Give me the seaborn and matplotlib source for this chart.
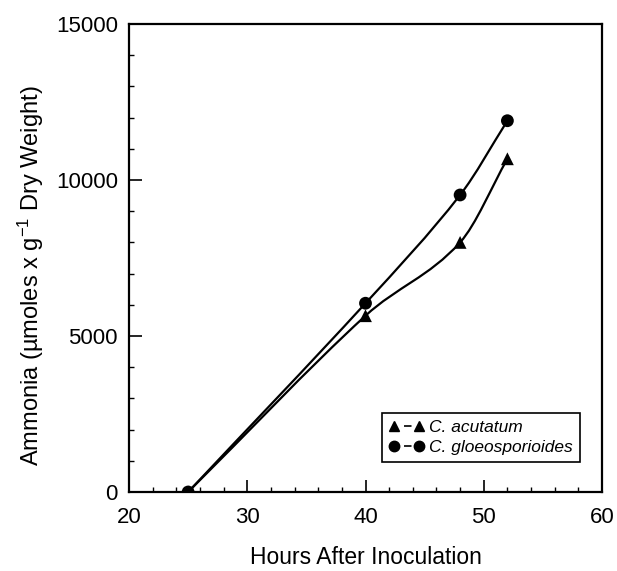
import numpy as np
import matplotlib
matplotlib.use("Agg")
import matplotlib.pyplot as plt
from matplotlib.path import Path
from matplotlib.patches import PathPatch
from matplotlib.lines import Line2D
from matplotlib.ticker import MultipleLocator
import seaborn as sns
import pandas as pd

# ---- data ----
hours = [25, 40, 48, 52]
acutatum = [0, 5650, 8000, 10680]
gloeo = [0, 6050, 9520, 11900]
series_names = ["C. acutatum", "C. gloeosporioides"]
xticks = [20, 30, 40, 50, 60]
yticks = [0, 5000, 10000, 15000]

sns.set_theme(style="ticks")
plt.rcParams["font.family"] = ["Liberation Sans", "DejaVu Sans"]
plt.rcParams["mathtext.fontset"] = "custom"
plt.rcParams["mathtext.rm"] = "Liberation Sans"
plt.rcParams["mathtext.it"] = "Liberation Sans:italic"
plt.rcParams["text.color"] = "black"
plt.rcParams["axes.labelcolor"] = "black"

fig = plt.figure(figsize=(6.17, 5.71), dpi=100)
ax = fig.add_axes([129/617, 1-492/571, (602-129)/617, (492-24)/571])

df = pd.DataFrame({
    "hours": hours * 2,
    "ammonia": acutatum + gloeo,
    "series": [series_names[0]] * len(hours) + [series_names[1]] * len(hours),
})


def smooth_path(xs, ys):
    xs = np.asarray(xs, float)
    ys = np.asarray(ys, float)
    n = len(xs)
    m = np.zeros(n)
    for i in range(n):
        if i == 0:
            m[i] = (ys[1] - ys[0]) / (xs[1] - xs[0])
        elif i == n - 1:
            m[i] = (ys[-1] - ys[-2]) / (xs[-1] - xs[-2])
        else:
            m[i] = (ys[i+1] - ys[i-1]) / (xs[i+1] - xs[i-1])
    verts = [(xs[0], ys[0])]
    codes = [Path.MOVETO]
    for i in range(n - 1):
        h = xs[i+1] - xs[i]
        verts += [(xs[i] + h/3, ys[i] + m[i]*h/3),
                  (xs[i+1] - h/3, ys[i+1] - m[i+1]*h/3),
                  (xs[i+1], ys[i+1])]
        codes += [Path.CURVE4] * 3
    return Path(verts, codes)


for ys in (acutatum, gloeo):
    ax.add_patch(PathPatch(smooth_path(hours, ys), fill=False,
                           edgecolor="black", lw=1.6, zorder=2))

sns.scatterplot(data=df, x="hours", y="ammonia", style="series",
                markers={series_names[0]: "^", series_names[1]: "o"},
                color="black", s=85, edgecolor="black", linewidth=0,
                legend=False, ax=ax, zorder=3)

ax.set_xlim(20, 60)
ax.set_ylim(0, 15000)
ax.set_xticks(xticks)
ax.set_yticks(yticks)
ax.xaxis.set_minor_locator(MultipleLocator(2))
ax.yaxis.set_minor_locator(MultipleLocator(1000))
ax.tick_params(which="major", direction="in", length=9, width=1.2,
               labelsize=16, colors="black", labelcolor="black")
ax.tick_params(axis="x", which="major", pad=11)
ax.tick_params(axis="y", which="major", pad=8)
ax.tick_params(which="minor", direction="in", length=3.5, width=1.0,
               colors="black")
for s in ax.spines.values():
    s.set_linewidth(1.6)
    s.set_color("black")

ax.set_xlabel("Hours After Inoculation", fontsize=16.5, labelpad=13,
              color="black")
ax.set_ylabel("Ammonia (µmoles x g$^{-1}$ Dry Weight)", fontsize=17,
              color="black")
ax.yaxis.set_label_coords(-0.175, 0.462)

handles = [
    Line2D([0], [0], color="black", lw=1.2, marker="^", markersize=7.5,
           linestyle=(0, (0.01, 6.0, 4.5, 30))),
    Line2D([0], [0], color="black", lw=1.2, marker="o", markersize=7.5,
           linestyle=(0, (0.01, 6.0, 4.5, 30))),
]
leg = ax.legend(handles, series_names, loc="lower right",
                bbox_to_anchor=(0.953, 0.064), borderaxespad=0,
                numpoints=2, handlelength=2.0,
                handletextpad=0.3, borderpad=0.4, labelspacing=0.3,
                fancybox=False, framealpha=1, edgecolor="black",
                prop={"style": "italic", "size": 12.5})
leg.get_frame().set_linewidth(1.2)
for t in leg.get_texts():
    t.set_color("black")

fig.savefig("out.png", dpi=100)
